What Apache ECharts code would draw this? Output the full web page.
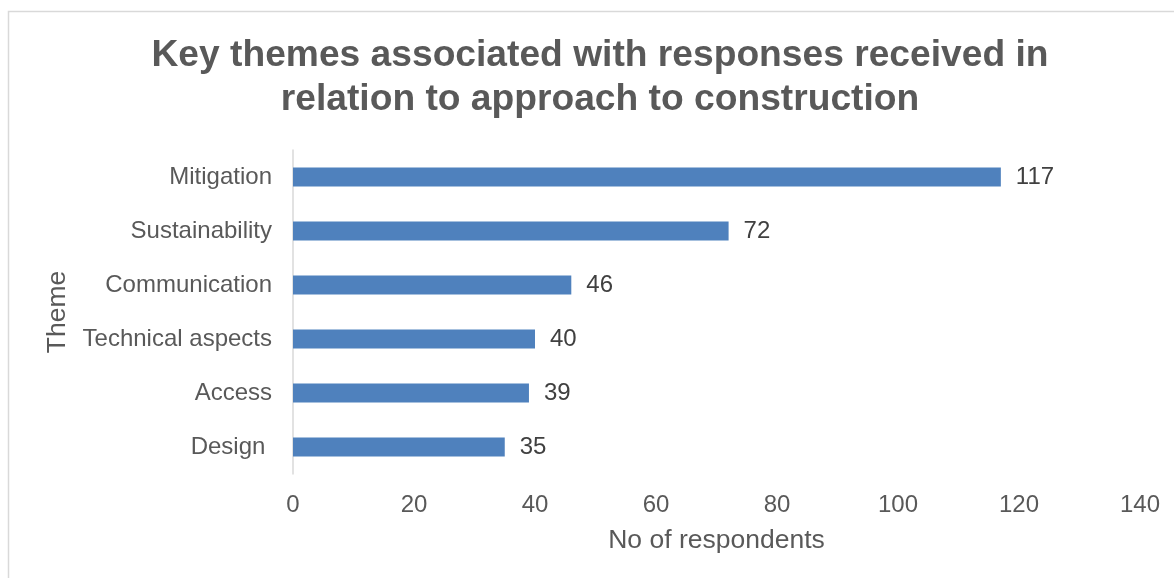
<!DOCTYPE html>
<html>
<head>
<meta charset="utf-8">
<script src="https://cdn.jsdelivr.net/npm/echarts@6/dist/echarts.min.js"></script>
<style>
  html, body { margin: 0; padding: 0; background: #fff; }
  #chart { width: 1174px; height: 578px; }
</style>
</head>
<body>
<div id="chart"></div>
<script>
// data, top to bottom
const themes = ['Mitigation', 'Sustainability', 'Communication', 'Technical aspects', 'Access', 'Design ']
const respondents = [117, 72, 46, 40, 39, 35]
const xMin = 0
const xMax = 140
const xStep = 20

const font = '"Liberation Sans", Arial, sans-serif'
const textColor = '#595959'
const fs = 24
const nameFs = 26.5

const chart = echarts.init(document.getElementById('chart'))
chart.setOption({
  backgroundColor: '#fff',
  animation: false,
  title: {
    text: 'Key themes associated with responses received in\nrelation to approach to construction',
    left: 595,
    textAlign: 'center',
    top: 29,
    textStyle: {
      fontFamily: font,
      fontSize: 37.2,
      fontWeight: 'bold',
      color: textColor,
      lineHeight: 44
    }
  },
  graphic: [{
    type: 'rect',
    shape: { x: 8.5, y: 11.5, width: 1300, height: 700 },
    style: { fill: 'none', stroke: '#d9d9d9', lineWidth: 1.5 },
    silent: true
  }],
  grid: { left: 293, right: 34, top: 150, bottom: 104 },
  xAxis: {
    type: 'value',
    min: xMin,
    max: xMax,
    interval: xStep,
    name: 'No of respondents',
    nameLocation: 'middle',
    nameGap: 53,
    nameTextStyle: { fontFamily: font, fontSize: nameFs, color: textColor },
    axisLine: { show: false },
    axisTick: { show: false },
    splitLine: { show: false },
    axisLabel: { fontFamily: font, fontSize: fs, color: textColor, margin: 19 }
  },
  yAxis: {
    type: 'category',
    data: themes,
    inverse: true,
    name: 'Theme',
    nameLocation: 'middle',
    nameGap: 220,
    nameRotate: 90,
    nameTextStyle: { fontFamily: font, fontSize: nameFs, color: textColor },
    axisLine: { show: true, lineStyle: { color: '#d9d9d9', width: 1.5 } },
    axisTick: { show: false },
    axisLabel: { fontFamily: font, fontSize: fs, color: textColor, margin: 21, padding: [4, 0, 0, 0] }
  },
  series: [{
    type: 'bar',
    data: respondents,
    barWidth: 19,
    itemStyle: { color: '#4f81bd' },
    label: {
      show: true,
      position: 'right',
      distance: 15,
      padding: [4, 0, 0, 0],
      fontFamily: font,
      fontSize: fs,
      color: '#404040'
    }
  }]
})
</script>
</body>
</html>
